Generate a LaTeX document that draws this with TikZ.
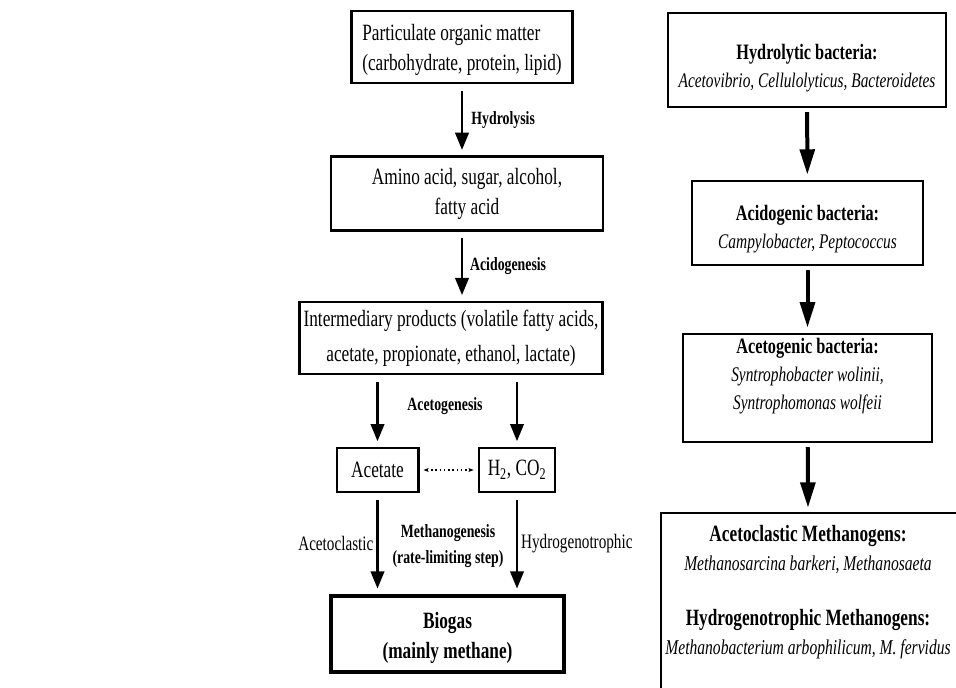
\documentclass[tikz,border=0pt]{standalone}
\usepackage{fontspec}
\setmainfont{Liberation Serif}[FakeStretch=0.74]
\usepackage{tikz}
\usetikzlibrary{arrows.meta}

\begin{document}
\begin{tikzpicture}[x=0.75pt,y=-0.75pt,>={Triangle[length=13pt,width=10pt]},
  stage/.style={draw,line width=2.2pt,font=\fontsize{17.5}{22.5}\selectfont,inner sep=3pt},
  small/.style={draw,line width=2pt,font=\fontsize{17.5}{19}\selectfont,inner sep=2pt},
  lbl/.style={font=\bfseries\fontsize{14}{19}\selectfont,inner sep=2pt},
  side/.style={font=\fontsize{15.4}{17}\selectfont,inner sep=2pt},
  flow/.style={->,line width=2.2pt,shorten <=5pt,shorten >=4pt},
  group/.style={draw,line width=1.6pt,align=center,font=\fontsize{15.6}{21}\selectfont},
  gflow/.style={-{Triangle[length=19pt,width=11pt]},line width=3pt,shorten <=3pt,shorten >=4pt}]
\useasboundingbox (0,0) rectangle (956,688);

% pathway
\node[stage,align=left,minimum width=166pt,minimum height=54pt] (pom) at (462,47)
  {\rule{0pt}{16pt}Particulate organic matter\\(carbohydrate, protein, lipid)};
\node[stage,align=center,minimum width=204pt,minimum height=55pt] (amino) at (467,193.5)
  {Amino acid, sugar, alcohol,\\fatty acid};
\node[stage,align=center,minimum width=224pt,minimum height=54pt,
      font=\fontsize{17.5}{26}\selectfont] (inter) at (451,338)
  {Intermediary products (volatile fatty acids,\\acetate, propionate, ethanol, lactate)};
\node[small,minimum width=61pt,minimum height=33pt] (acetate) at (377.5,470) {Acetate};
\node[small,minimum width=57pt,minimum height=33pt] (gas) at (517,470) {H\textsubscript{2}, CO\textsubscript{2}};
\node[stage,line width=3pt,align=center,minimum width=175pt,minimum height=57pt] (biogas) at (447.5,634)
  {\bfseries\rule{0pt}{18pt}Biogas\\\bfseries (mainly methane)};

\draw[flow] (pom.south) -- (pom.south |- amino.north)
  node[lbl,midway,right,xshift=4pt] (hyd) {Hydrolysis};
\draw[flow] (amino.south -| pom.south) -- (pom.south |- inter.north)
  node[lbl,midway,right,xshift=3pt] (acid) {Acidogenesis};
\draw[flow] (acetate.north |- inter.south) -- (acetate.north);
\draw[flow] (gas.north |- inter.south) -- (gas.north);
\node[lbl] (acetolbl) at (445,406) {Acetogenesis};
\draw[{Stealth[length=4pt]}-{Stealth[length=4pt]},dotted,line width=1.2pt,shorten <=3pt,shorten >=3pt]
  (acetate.east) -- (gas.west);
\draw[flow] (acetate.south) -- (acetate.south |- biogas.north)
  node[side,midway,left] (clastic) {Acetoclastic};
\draw[flow] (gas.south) -- (gas.south |- biogas.north)
  node[side,midway,right] (hydro) {Hydrogenotrophic};
\node[lbl,align=center] (methlbl) at (448,546) {Methanogenesis\\(rate-limiting step)};

% microbes
\node[group,minimum width=208.5pt,minimum height=70.5pt] (hydrolytic) at (807,60)
  {{\bfseries\fontsize{16.5}{21}\selectfont\rule{0pt}{24pt}Hydrolytic bacteria:}\\\itshape Acetovibrio, Cellulolyticus, Bacteroidetes};
\node[group,minimum width=173pt,minimum height=63pt] (acidogenic) at (807.5,223)
  {{\bfseries\fontsize{16.5}{21}\selectfont\rule{0pt}{20pt}Acidogenic bacteria:}\\\itshape Campylobacter, Peptococcus};
\node[group,minimum width=187pt,minimum height=76pt] (acetogenic) at (807.5,388)
  {{\bfseries\fontsize{16.5}{21}\selectfont Acetogenic bacteria:}\\\itshape Syntrophobacter wolinii,\\\itshape Syntrophomonas wolfeii\\\mbox{}};
\coordinate (methtop) at (808,513);
\node[align=center,font=\fontsize{15.8}{21.75}\selectfont] (methano) at (808,592)
  {{\bfseries\fontsize{17.5}{21.75}\selectfont Acetoclastic Methanogens:}\\\itshape Methanosarcina barkeri, Methanosaeta\\[20pt]
   {\bfseries\fontsize{17.5}{21.75}\selectfont Hydrogenotrophic Methanogens:}\\\itshape Methanobacterium arbophilicum, M. fervidus};
\draw[line width=1.6pt] (methtop -| 661,0) rectangle (975,700);

\draw[gflow] (hydrolytic) -- (acidogenic);
\draw[gflow] (acidogenic) -- (acetogenic);
\draw[gflow] (acetogenic) -- (methtop);
\end{tikzpicture}
\end{document}
